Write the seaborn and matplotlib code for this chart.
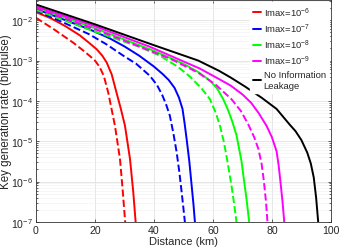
import seaborn as sns
import pandas as pd
import matplotlib
matplotlib.use("Agg")
import matplotlib.pyplot as plt
from matplotlib.lines import Line2D

# values (distance in km, rate in bit/pulse)
red_solid_km = [0, 5, 10, 14.9, 18, 20.6, 22.5, 24, 25.7, 27.3, 28.8, 30.2, 31.9, 33, 33.8, 33.9]
red_solid_rate = [1.58e-2, 1.12e-2, 7.1e-3, 4.2e-3, 2.75e-3, 1.9e-3, 1.32e-3, 8.9e-4, 4.5e-4,
                  1.62e-4, 6.3e-5, 2.4e-5, 3.6e-6, 5.5e-7, 1e-7, 8e-8]
red_dash_km = [0, 6, 12.7, 16, 18.3, 20, 21.5, 23, 24.5, 26.8, 28.5, 29.4, 30.25, 30.35]
red_dash_rate = [1.15e-2, 6e-3, 2.75e-3, 1.78e-3, 1.29e-3, 1e-3, 7.1e-4, 4.2e-4, 1.62e-4,
                 2.4e-5, 3.6e-6, 6.3e-7, 1e-7, 8e-8]

blue_solid_km = [0, 10, 18, 25, 30, 35, 40, 43, 45, 47, 48.5, 49.7, 50.4, 51.1, 52, 52.8,
                 53.4, 53.9, 54.0]
blue_solid_rate = [1.9e-2, 1e-2, 6e-3, 3.55e-3, 2.24e-3, 1.32e-3, 7.1e-4, 4.6e-4, 3.3e-4,
                   2.1e-4, 1.2e-4, 6.3e-5, 2.8e-5, 1.12e-5, 3.2e-6, 7.9e-7, 2.8e-7, 1e-7, 8e-8]
blue_dash_km = [0, 10, 18, 24, 29.6, 34, 38.6, 41, 42.8, 44.2, 45.4, 46.6, 47.7, 48.6, 49.4,
                50.0, 50.5, 50.6]
blue_dash_rate = [1.74e-2, 8.3e-3, 4.5e-3, 2.5e-3, 1.32e-3, 8.3e-4, 4.2e-4, 2.5e-4, 1.41e-4,
                  7.9e-5, 4.3e-5, 1.58e-5, 5.4e-6, 1.78e-6, 5.5e-7, 2.2e-7, 1e-7, 8e-8]

green_solid_km = [0, 20, 40, 50, 55, 59, 61.5, 63.5, 65, 66.5, 68, 69.7, 70.6, 71.4, 72.3, 72.4]
green_solid_rate = [2.1e-2, 6.3e-3, 1.74e-3, 8.3e-4, 5.2e-4, 3.2e-4, 2e-4, 1.1e-4, 6.3e-5,
                    3.2e-5, 1.41e-5, 3.2e-6, 1e-6, 3.7e-7, 1e-7, 8e-8]
green_dash_km = [0, 20, 35, 42, 48, 52.2, 56, 59, 61, 62.4, 63.6, 64.6, 65.5, 66.3, 67.2, 68,
                 68.1]
green_dash_rate = [1.8e-2, 5.2e-3, 2.2e-3, 1.32e-3, 7.1e-4, 4e-4, 2.1e-4, 1.1e-4, 5e-5, 2.4e-5,
                   1.05e-5, 4.4e-6, 1.78e-6, 7.9e-7, 2.8e-7, 1e-7, 8e-8]

magenta_solid_km = [0, 20, 38.6, 55.6, 62, 66, 70, 73, 75.5, 78.2, 80, 81.6, 82.3, 82.9, 83.6,
                    84.2, 84.3]
magenta_solid_rate = [2.2e-2, 7.1e-3, 2.2e-3, 6.3e-4, 3.5e-4, 2.4e-4, 1.45e-4, 8.9e-5, 5e-5,
                      2.4e-5, 1.26e-5, 5.6e-6, 2.5e-6, 1e-6, 3.2e-7, 1e-7, 8e-8]
magenta_dash_km = [0, 20, 45.4, 55, 61, 66.3, 69.5, 72, 74, 75.4, 76.5, 77.3, 78, 78.5, 78.6]
magenta_dash_rate = [2e-2, 6e-3, 1.12e-3, 5e-4, 2.5e-4, 1.1e-4, 5.6e-5, 2.6e-5, 1.26e-5,
                     6.5e-6, 2.8e-6, 1e-6, 3.2e-7, 1e-7, 8e-8]

black_km = [0, 20, 40, 55, 62, 66, 71, 76.5, 81.6, 86, 88, 90, 92, 93.2, 94.2, 95.0, 95.7, 95.8]
black_rate = [2.45e-2, 7.9e-3, 2.4e-3, 1e-3, 5.6e-4, 3.8e-4, 2.24e-4, 1.2e-4, 6.3e-5, 2.6e-5,
              1.78e-5, 1.07e-5, 5.2e-6, 2.8e-6, 1.26e-6, 4e-7, 1e-7, 8e-8]

labels = ["Imax=10$^{-6}$", "Imax=10$^{-7}$", "Imax=10$^{-8}$", "Imax=10$^{-9}$",
          "No Information\nLeakage"]

sns.set_style("ticks")
plt.rcParams['font.family'] = ['Liberation Sans', 'DejaVu Sans']
plt.rcParams['mathtext.fontset'] = 'custom'
plt.rcParams['mathtext.rm'] = 'Liberation Sans'

fig = plt.figure(figsize=(3.39, 2.53), dpi=100)
ax = fig.add_axes([0.106, 0.119, 0.87, 0.877])

curves = [
    (red_solid_km, red_solid_rate, "#ff0000", "-"),
    (red_dash_km, red_dash_rate, "#ff0000", "--"),
    (blue_solid_km, blue_solid_rate, "#0000ff", "-"),
    (blue_dash_km, blue_dash_rate, "#0000ff", "--"),
    (green_solid_km, green_solid_rate, "#00ff00", "-"),
    (green_dash_km, green_dash_rate, "#00ff00", "--"),
    (magenta_solid_km, magenta_solid_rate, "#ff00ff", "-"),
    (magenta_dash_km, magenta_dash_rate, "#ff00ff", "--"),
    (black_km, black_rate, "#000000", "-"),
]
for km, rate, col, ls in curves:
    df = pd.DataFrame({"Distance": km, "Rate": rate})
    sns.lineplot(data=df, x="Distance", y="Rate", color=col, linestyle=ls,
                 linewidth=1.4, ax=ax, estimator=None)

ax.set_yscale("log")
ax.set_xlim(0, 100)
ax.set_ylim(1e-7, 10 ** -1.5)
ax.set_xticks([0, 20, 40, 60, 80, 100])
ax.set_yticks([1e-7, 1e-6, 1e-5, 1e-4, 1e-3, 1e-2])
ax.grid(True, which="major", color="#dcdcdc", linewidth=0.5)
ax.grid(True, which="minor", axis="y", color="#f0f0f0", linewidth=0.4)
ax.tick_params(which="both", direction="in", top=True, right=True, labelsize=7.6,
               length=2.5, width=0.5, pad=2)
ax.tick_params(which="minor", length=1.5)
for s in ax.spines.values():
    s.set_linewidth(0.6)
    s.set_color("#333333")
ax.set_xlabel("Distance (km)", fontsize=8, labelpad=1)
ax.set_ylabel("Key generation rate (bit/pulse)", fontsize=8.3)
ax.yaxis.set_label_coords(-0.08, 0.5)

cols = ["#ff0000", "#0000ff", "#00ff00", "#ff00ff", "#000000"]
handles = [Line2D([0], [0], color=c, lw=1.4) for c in cols]
leg = ax.legend(handles, labels, loc="upper right", fontsize=6.8, frameon=True,
                handlelength=0.85, handletextpad=0.25, borderaxespad=0.25,
                labelspacing=0.32, fancybox=False, framealpha=1, borderpad=0.3)
leg.get_frame().set_edgecolor("white")

fig.savefig("out.png", dpi=100)
